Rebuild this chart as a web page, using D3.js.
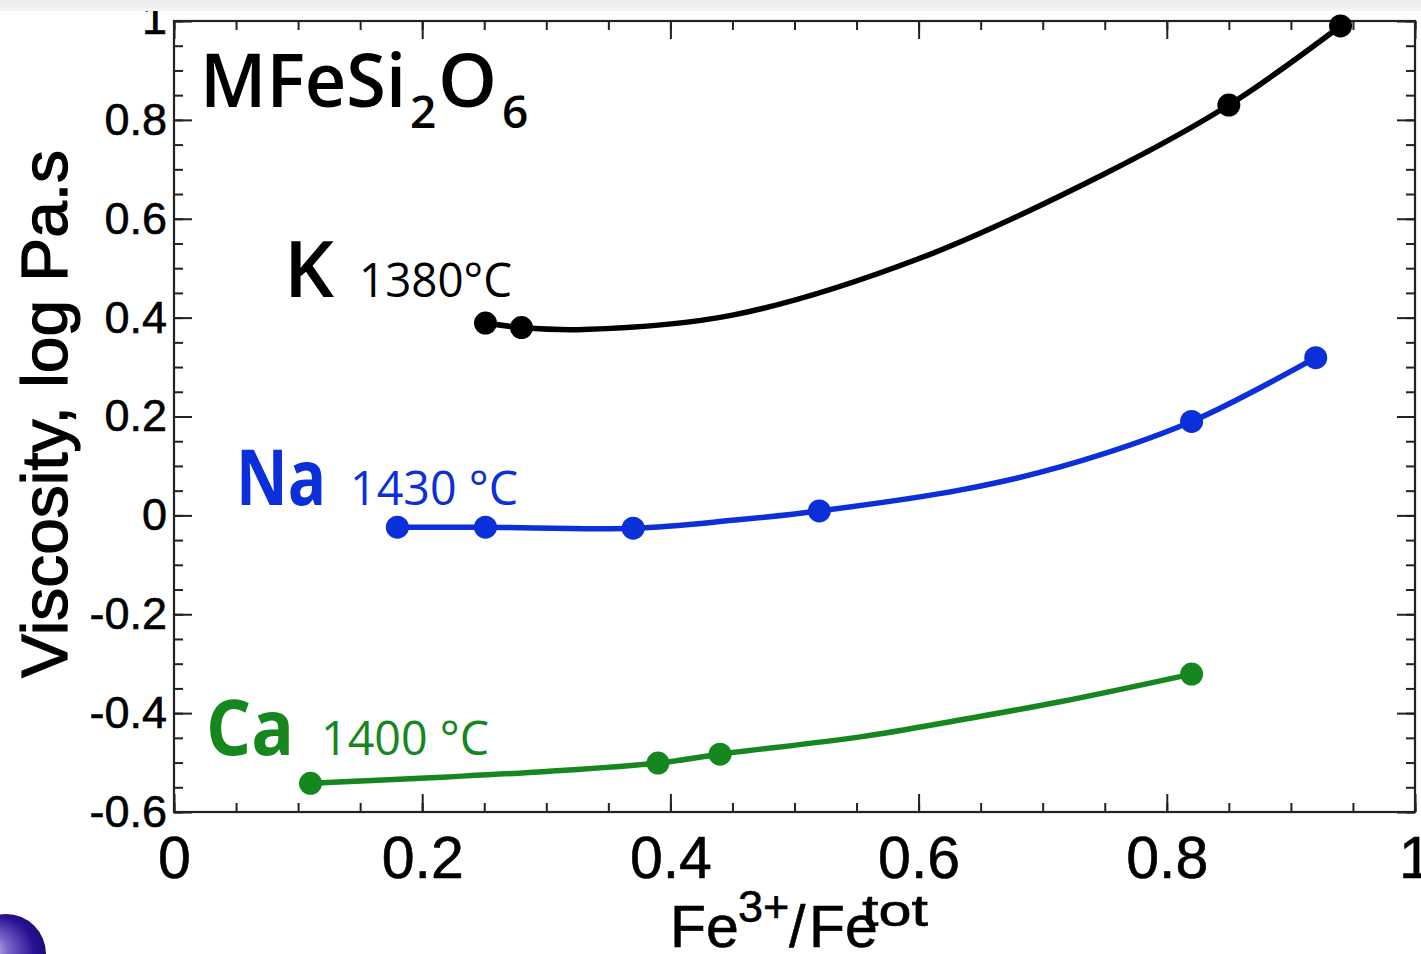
<!DOCTYPE html>
<html>
<head>
<meta charset="utf-8">
<script src="https://cdn.jsdelivr.net/npm/d3@7"></script>
<style>
  html, body { margin: 0; padding: 0; background: #fff; }
  svg { display: block; }
</style>
</head>
<body>
<svg id="chart" width="1421" height="954"></svg>
<script>
// Measured points (Fe3+/Fetot, log viscosity) for each MFeSi2O6 melt
const kPoints  = [[0.251, 0.389], [0.280, 0.380], [0.850, 0.830], [0.940, 0.990]];
const naPoints = [[0.180, -0.024], [0.251, -0.024], [0.370, -0.026], [0.520, 0.009], [0.820, 0.190], [0.920, 0.319]];
const caPoints = [[0.110, -0.542], [0.390, -0.501], [0.440, -0.483], [0.820, -0.321]];

// Fitted trend lines through each series
const kFit  = [[0.251, 0.389], [0.280, 0.380], [0.330, 0.376], [0.450, 0.405], [0.600, 0.519], [0.750, 0.691], [0.850, 0.830], [0.940, 0.990]];
const naFit = [[0.180, -0.024], [0.251, -0.024], [0.370, -0.026], [0.450, -0.010], [0.520, 0.009], [0.633, 0.051], [0.714, 0.098], [0.820, 0.190], [0.920, 0.319]];
const caFit = [[0.110, -0.542], [0.220, -0.529], [0.300, -0.518], [0.390, -0.501], [0.440, -0.483], [0.553, -0.448], [0.633, -0.414], [0.714, -0.377], [0.820, -0.321]];

// Axis ticks and labels
const xMajor = [0, 0.2, 0.4, 0.6, 0.8, 1];
const xLabels = ["0", "0.2", "0.4", "0.6", "0.8", "1"];
const yMajor = [-0.6, -0.4, -0.2, 0, 0.2, 0.4, 0.6, 0.8, 1];
const yLabels = ["-0.6", "-0.4", "-0.2", "0", "0.2", "0.4", "0.6", "0.8", "1"];

const colK = "#000000", colNa = "#0b2fd8", colCa = "#16861f";

const svg = d3.select("#chart");
const defs = svg.append("defs");
const x = d3.scaleLinear().domain([0, 1]).range([174, 1415]);
const y = d3.scaleLinear().domain([-0.6, 1]).range([812, 21]);

const minorX = d3.range(0, 21).map(i => i * 0.05);
const minorY = d3.range(0, 33).map(i => -0.6 + i * 0.05);

const tickFont = "'Liberation Sans', Arial, sans-serif";
const labelFont = "'Open Sans', 'DejaVu Sans', sans-serif";

function styleAxis(g) {
  g.select(".domain").remove();
  g.selectAll(".tick line").attr("stroke", "#222").attr("stroke-width", 2);
  g.selectAll(".tick text").attr("fill", "#000").attr("font-family", tickFont)
    .attr("stroke", "#000").attr("stroke-width", 0.6);
}

// Minor ticks on all four sides
const H = 812, W = 1415;
svg.append("g").attr("transform", `translate(0,${H})`).call(d3.axisBottom(x).tickValues(minorX).tickSize(-9).tickFormat("")).call(styleAxis);
svg.append("g").attr("transform", `translate(0,21)`).call(d3.axisTop(x).tickValues(minorX).tickSize(-9).tickFormat("")).call(styleAxis);
svg.append("g").attr("transform", `translate(174,0)`).call(d3.axisLeft(y).tickValues(minorY).tickSize(-9).tickFormat("")).call(styleAxis);
svg.append("g").attr("transform", `translate(${W},0)`).call(d3.axisRight(y).tickValues(minorY).tickSize(-9).tickFormat("")).call(styleAxis);

// Major ticks with labels
svg.append("g").attr("transform", `translate(0,${H})`)
  .call(d3.axisBottom(x).tickValues(xMajor).tickSize(-18).tickPadding(24).tickFormat((d, i) => xLabels[i]))
  .call(styleAxis)
  .call(g => g.selectAll(".tick text").attr("font-size", 59));
svg.append("g").attr("transform", `translate(0,21)`)
  .call(d3.axisTop(x).tickValues(xMajor).tickSize(-18).tickFormat("")).call(styleAxis);
svg.append("g").attr("transform", `translate(174,0)`)
  .call(d3.axisLeft(y).tickValues(yMajor).tickSize(-18).tickPadding(7).tickFormat((d, i) => yLabels[i]))
  .call(styleAxis)
  .call(g => g.selectAll(".tick text").attr("font-size", 45)
    .attr("dy", d => d === 1 ? "0.27em" : "0.32em"));
svg.append("g").attr("transform", `translate(${W},0)`)
  .call(d3.axisRight(y).tickValues(yMajor).tickSize(-18).tickFormat("")).call(styleAxis);

// Plot frame
svg.append("rect")
  .attr("x", x(0)).attr("y", y(1))
  .attr("width", x(1) - x(0)).attr("height", y(-0.6) - y(1))
  .attr("fill", "none").attr("stroke", "#222").attr("stroke-width", 2.2);

// Series lines and markers
const line = d3.line().x(d => x(d[0])).y(d => y(d[1])).curve(d3.curveCatmullRom.alpha(0.5));
const series = [
  { fit: kFit, pts: kPoints, col: colK },
  { fit: naFit, pts: naPoints, col: colNa },
  { fit: caFit, pts: caPoints, col: colCa }
];
series.forEach(s => {
  svg.append("path").datum(s.fit).attr("d", line)
    .attr("fill", "none").attr("stroke", s.col).attr("stroke-width", 5.5)
    .attr("stroke-linecap", "round").attr("stroke-linejoin", "round");
  svg.append("g").selectAll("circle").data(s.pts).join("circle")
    .attr("cx", d => x(d[0])).attr("cy", d => y(d[1])).attr("r", 11.5)
    .attr("fill", s.col);
});

// Composition title
const title = svg.append("g").attr("font-family", labelFont).attr("fill", "#000").attr("font-weight", 600);
title.append("text").attr("x", 200).attr("y", 107).attr("font-size", 75)
  .attr("textLength", 206).attr("lengthAdjust", "spacingAndGlyphs").text("MFeSi");
title.append("text").attr("x", 410).attr("y", 128).attr("font-size", 46).text("2");
title.append("text").attr("x", 438).attr("y", 107).attr("font-size", 75).text("O");
title.append("text").attr("x", 502).attr("y", 128).attr("font-size", 46).text("6");

// Series labels with melt temperatures
function seriesLabel(ion, temp, col, xs, xt, base, ionLen, tempLen, weight) {
  const g = svg.append("g").attr("font-family", labelFont).attr("fill", col);
  g.append("text").attr("x", xs).attr("y", base).attr("font-size", 77).attr("font-weight", weight)
    .attr("textLength", ionLen).attr("lengthAdjust", "spacingAndGlyphs").text(ion);
  g.append("text").attr("x", xt).attr("y", base).attr("font-size", 47)
    .attr("textLength", tempLen).attr("lengthAdjust", "spacingAndGlyphs").text(temp);
}
seriesLabel("K", "1380°C", colK, 284, 359, 297, 50, 153, 600);
seriesLabel("Na", "1430 °C", colNa, 236, 350, 505, 90, 168, 700);
seriesLabel("Ca", "1400 °C", colCa, 206, 321, 755, 88, 168, 700);

// Axis titles
const xt = svg.append("text").attr("font-family", tickFont).attr("fill", "#000")
  .attr("stroke", "#000").attr("stroke-width", 0.6).attr("y", 947);
xt.append("tspan").attr("x", 670).attr("font-size", 59).text("Fe");
xt.append("tspan").attr("x", 738).attr("y", 922).attr("font-size", 45).text("3+");
xt.append("tspan").attr("x", 789).attr("y", 947).attr("font-size", 59).text("/");
xt.append("tspan").attr("x", 809).attr("y", 947).attr("font-size", 59).text("Fe");
xt.append("tspan").attr("x", 862).attr("y", 926).attr("font-size", 44)
  .attr("textLength", 66).attr("lengthAdjust", "spacingAndGlyphs").text("tot");

svg.append("text")
  .attr("transform", "translate(67,414) rotate(-90)")
  .attr("text-anchor", "middle")
  .attr("font-family", tickFont).attr("font-size", 64).attr("fill", "#000")
  .attr("stroke", "#000").attr("stroke-width", 1.2)
  .attr("textLength", 528).attr("lengthAdjust", "spacingAndGlyphs")
  .text("Viscosity, log Pa.s");

// Light band along the top edge
const band = defs.append("linearGradient").attr("id", "band").attr("x1", 0).attr("y1", 0).attr("x2", 0).attr("y2", 1);
band.append("stop").attr("offset", "0%").attr("stop-color", "#ebebeb");
band.append("stop").attr("offset", "100%").attr("stop-color", "#f5f5f5");
svg.append("rect").attr("x", 0).attr("y", 0).attr("width", 1421).attr("height", 11).attr("fill", "url(#band)");

// Bullet sphere in the lower-left corner
const ball = defs.append("radialGradient").attr("id", "ball")
  .attr("cx", "45%").attr("cy", "50%").attr("r", "60%").attr("fx", "25%").attr("fy", "45%");
ball.append("stop").attr("offset", "0%").attr("stop-color", "#e6e0f4");
ball.append("stop").attr("offset", "35%").attr("stop-color", "#7a64c8");
ball.append("stop").attr("offset", "75%").attr("stop-color", "#2a1296");
ball.append("stop").attr("offset", "100%").attr("stop-color", "#1a0874");
svg.append("circle").attr("cx", 6).attr("cy", 954).attr("r", 40).attr("fill", "url(#ball)");
</script>
</body>
</html>
